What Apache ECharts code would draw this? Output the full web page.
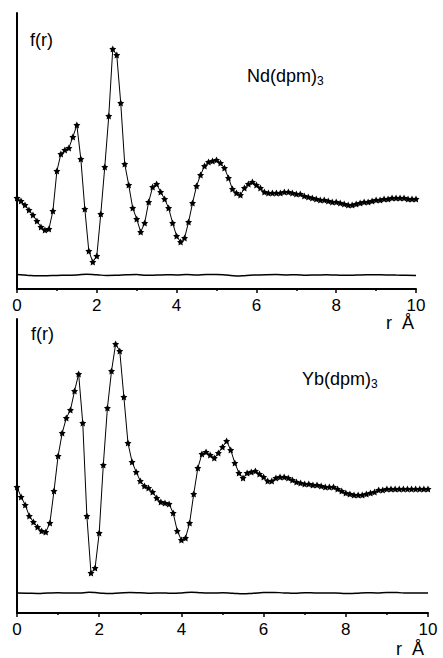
<!DOCTYPE html>
<html>
<head>
<meta charset="utf-8">
<script src="https://cdn.jsdelivr.net/npm/echarts@6/dist/echarts.min.js"></script>
<style>
html,body{margin:0;padding:0;background:#fff;}
#chart{width:443px;height:658px;}
</style>
</head>
<body>
<div id="chart"></div>
<script>
// r grid in Å for the measured f(r) points (0.1 step)
const rGrid = Array.from({length: 101}, (_, i) => +(i * 0.1).toFixed(1));
// r grid for the difference curves (0.25 step)
const rDiff = Array.from({length: 41}, (_, i) => i * 0.25);

// Nd(dpm)3, f(r) in arbitrary units
const ndData = [
  91, 88, 84, 79, 74, 68, 62, 59, 60, 78,
  118, 135, 139, 141, 152, 164, 130, 80, 38, 27,
  33, 75, 122, 173, 240, 234, 186, 125, 104, 81,
  70, 57, 66, 87, 102, 105, 97, 90, 81, 66,
  53, 47, 51, 67, 86, 103, 114, 123, 127, 128,
  129, 126, 121, 111, 100, 96, 94, 101, 105, 107,
  104, 101, 97, 96, 96, 96, 96, 97, 97, 96,
  95, 95, 93, 92, 91, 90, 89, 89, 88, 87,
  87, 86, 85, 84, 84, 85, 86, 87, 87, 88,
  89, 89, 90, 90, 91, 91, 91, 91, 90, 90, 90
];
const ndDiff = [
  14.5, 13.8, 13.2, 13.3, 13.5, 13.8, 14.0, 14.8, 14.2, 13.6,
  13.8, 14.3, 14.5, 13.7, 13.9, 14.3, 14.0, 14.6, 14.1, 14.6,
  14.5, 13.9, 13.0, 13.6, 14.0, 14.3, 14.4, 14.1, 14.2, 13.8,
  14.0, 14.2, 13.9, 13.7, 13.9, 14.3, 14.2, 14.1, 13.9, 13.8, 13.6
];

// Yb(dpm)3
const ybData = [
  126, 116, 108, 97, 91, 86, 82, 81, 90, 122,
  157, 180, 195, 203, 222, 239, 190, 97, 40, 45,
  80, 148, 205, 242, 269, 262, 216, 170, 151, 141,
  132, 127, 125, 121, 115, 111, 110, 109, 100, 82,
  73, 75, 90, 119, 145, 159, 161, 158, 155, 160,
  166, 172, 163, 150, 140, 135, 140, 141, 142, 139,
  136, 132, 132, 135, 136, 136, 135, 133, 131, 130,
  129, 129, 128, 128, 127, 126, 126, 126, 124, 122,
  120, 119, 118, 118, 118, 119, 120, 121, 123, 123,
  124, 124, 124, 124, 124, 124, 124, 124, 124, 124, 124
];
const ybDiff = [
  20.0, 19.8, 19.6, 20.0, 20.2, 20.0, 19.9, 20.8, 20.1, 19.5,
  20.0, 20.4, 20.2, 19.8, 20.1, 19.7, 20.0, 20.8, 20.2, 19.9,
  20.3, 19.8, 19.2, 19.8, 20.4, 20.6, 20.1, 19.7, 20.3, 20.1,
  19.9, 20.0, 19.4, 19.8, 20.3, 20.1, 20.6, 20.4, 19.9, 20.0, 20.0
];

const star = 'path://M0,-10L2.9,-4L9.5,-3.1L4.8,1.6L5.9,8.1L0,5L-5.9,8.1L-4.8,1.6L-9.5,-3.1L-2.9,-4Z';
const font = 'Liberation Sans, Arial, sans-serif';

function pairs(xs, ys) {
  return ys.map((v, i) => [xs[i], v]);
}

function xAxisCfg(idx) {
  return {
    gridIndex: idx, type: 'value', min: 0, max: 10, interval: 2,
    axisLine: {onZero: false, lineStyle: {color: '#000', width: 2}},
    axisTick: {length: 4, lineStyle: {color: '#000', width: 1.5}},
    minorTick: {show: true, splitNumber: 2, length: 2, lineStyle: {color: '#000', width: 1.5}},
    axisLabel: {color: '#000', fontSize: 17, fontFamily: font, margin: 8},
    splitLine: {show: false}
  };
}

function yAxisCfg(idx, max) {
  return {
    gridIndex: idx, type: 'value', min: 0, max: max,
    axisLine: {show: true, onZero: false, lineStyle: {color: '#000', width: 2}},
    axisTick: {show: false},
    axisLabel: {show: false},
    splitLine: {show: false}
  };
}

function label(left, top, text, size) {
  return {
    type: 'text', left: left, top: top,
    style: {
      text: text, fill: '#000', font: size + 'px ' + font,
      rich: {
        a: {fontSize: size, fontFamily: font, fill: '#000'},
        s: {fontSize: 12, fontFamily: font, fill: '#000', padding: [9, 0, 0, 0]}
      }
    }
  };
}

const chart = echarts.init(document.getElementById('chart'), null, {renderer: 'svg'});
chart.setOption({
  animation: false,
  backgroundColor: '#fff',
  grid: [
    {left: 17, top: 13, width: 399, height: 276},
    {left: 17, top: 319, width: 411, height: 294}
  ],
  xAxis: [xAxisCfg(0), xAxisCfg(1)],
  yAxis: [yAxisCfg(0, 276), yAxisCfg(1, 294)],
  graphic: [
    label(30, 31, 'f(r)', 18),
    label(247, 67, '{a|Nd(dpm)}{s|3}', 18),
    label(386, 314, 'r  Å', 18),
    label(31, 325, 'f(r)', 18),
    label(302, 370, '{a|Yb(dpm)}{s|3}', 18),
    label(396, 640, 'r  Å', 18)
  ],
  series: [
    {
      type: 'line', xAxisIndex: 0, yAxisIndex: 0,
      data: pairs(rGrid, ndData),
      symbol: star, symbolSize: 7,
      itemStyle: {color: '#000'},
      lineStyle: {color: '#000', width: 1}
    },
    {
      type: 'line', xAxisIndex: 0, yAxisIndex: 0,
      data: pairs(rDiff, ndDiff), smooth: true,
      symbol: 'none', lineStyle: {color: '#000', width: 1.5}
    },
    {
      type: 'line', xAxisIndex: 1, yAxisIndex: 1,
      data: pairs(rGrid, ybData),
      symbol: star, symbolSize: 7,
      itemStyle: {color: '#000'},
      lineStyle: {color: '#000', width: 1}
    },
    {
      type: 'line', xAxisIndex: 1, yAxisIndex: 1,
      data: pairs(rDiff, ybDiff), smooth: true,
      symbol: 'none', lineStyle: {color: '#000', width: 1.5}
    }
  ]
});
</script>
</body>
</html>
